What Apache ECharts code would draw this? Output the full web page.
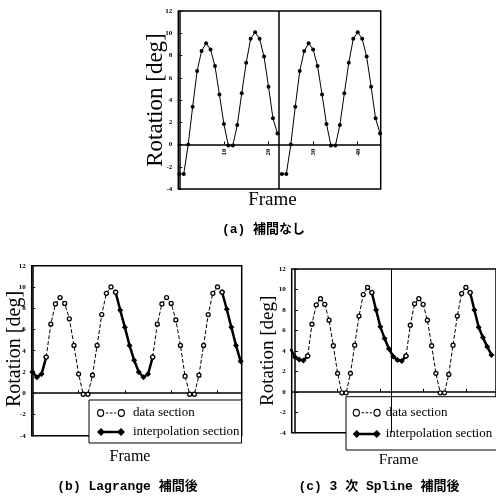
<!DOCTYPE html>
<html>
<head>
<meta charset="utf-8">
<script src="https://cdn.jsdelivr.net/npm/echarts@6/dist/echarts.min.js"></script>
<style>
html,body{margin:0;padding:0;background:#fff;}
#main{width:496px;height:497px;}
</style>
</head>
<body>
<div id="main"></div>
<script>
// ---- data ----
const frames = [0,1,2,3,4,5,6,7,8,9,10,11,12,13,14,15,16,17,18,19,20,21,22,23,24,25,26,27,28,29,30,31,32,33,34,35,36,37,38,39,40,41,42,43,44,45];
const cFrames = [-1,0,1,2,3,4,5,6,7,8,9,10,11,12,13,14,15,16,17,18,19,20,21,22,23,24,25,26,27,28,29,30,31,32,33,34,35,36,37,38,39,40,41,42,43,44,45,46];
// (a) raw motion data, one cycle (23 frames), shown twice
const aCycle = [-2.65,-2.65,0.0,3.4,6.6,8.4,9.1,8.55,7.05,4.5,1.85,-0.1,-0.1,1.75,4.6,7.35,9.5,10.1,9.5,7.9,5.2,2.35,1.0];
// (b) Lagrange interpolation result
const bValues = [2.0,1.5,1.8,3.4,6.5,8.4,9.0,8.45,7.0,4.5,1.8,-0.1,-0.1,1.7,4.5,7.4,9.4,10.0,9.5,7.8,6.2,4.5,3.1,2.0,1.5,1.8,3.4,6.5,8.4,9.0,8.45,6.9,4.5,1.6,-0.1,-0.1,1.7,4.5,7.4,9.4,10.0,9.5,7.9,6.2,4.5,3.0];
// (c) cubic spline interpolation result
const cValues = [4.2,3.4,3.15,3.05,3.5,6.6,8.5,9.1,8.55,7.0,4.5,1.8,-0.1,-0.1,1.8,4.55,7.4,9.5,10.2,9.7,8.0,6.35,5.2,4.2,3.45,3.1,3.0,3.5,6.5,8.6,9.1,8.55,7.0,4.5,1.8,-0.1,-0.1,1.7,4.55,7.4,9.6,10.2,9.7,8.0,6.3,5.3,4.4,3.6];
const dataRanges = [[3,18],[26,41]];
const bInterpRanges = [[0,3],[18,26],[41,45]];
const cInterpRanges = [[-1,3],[18,26],[41,46]];
const xTickFrames = [10,20,30,40];
const yTicks = {min:-4, max:12, interval:2};
const legendNames = ['data section','interpolation section'];

// ---- helpers ----
function pick(fr, vals, ranges){
  return fr.map((f,i)=> ranges.some(r=>f>=r[0]&&f<=r[1]) ? [f, vals[i]] : [f, null]);
}
const SERIF = "'Liberation Serif','Times New Roman',serif";
const CAP = "'Liberation Mono','Noto Sans CJK JP',monospace";

function yAxis(gi){
  return {gridIndex:gi, type:'value', min:yTicks.min, max:yTicks.max, interval:yTicks.interval,
    axisLine:{show:true, lineStyle:{color:'#000', width:1.5}},
    axisTick:{show:true, inside:true, length:3, lineStyle:{color:'#000', width:1}},
    axisLabel:{fontSize:7, fontWeight:'bold', fontFamily:SERIF, color:'#000', margin:6},
    splitLine:{show:false}};
}
// x axis placed at the y=0 line of its grid (zero lies 1/4 of the height above the bottom)
function xAxis(gi, min, max, gridH, labels){
  return {gridIndex:gi, type:'value', min:min, max:max, position:'bottom',
    offset: -gridH * (0 - yTicks.min) / (yTicks.max - yTicks.min),
    axisLine:{onZero:false, lineStyle:{color:'#000', width:1.5}},
    axisTick:{show:true, inside:true, length:3, customValues:xTickFrames, lineStyle:{color:'#000', width:1}},
    axisLabel: labels ? {show:true, customValues:xTickFrames, rotate:90, fontSize:7, fontWeight:'bold', fontFamily:SERIF, color:'#000', margin:4} : {show:false},
    splitLine:{show:false}};
}
function divider(x, w){
  return {symbol:'none', silent:true, label:{show:false}, animation:false,
    lineStyle:{color:'#000', type:'solid', width:w}, data:[{xAxis:x}]};
}
const dataStyle = {type:'line', symbol:'circle', symbolSize:4, z:3,
  itemStyle:{color:'#fff', borderColor:'#000', borderWidth:1.3},
  lineStyle:{color:'#000', width:1, type:[4,2]}};
const interpStyle = {type:'line', symbol:'diamond', symbolSize:6, z:2,
  itemStyle:{color:'#000'}, lineStyle:{color:'#000', width:2.5, type:'solid'}};

const DATA_ICON = 'path://M0.5,4A3.5,3.5,0,1,1,7.5,4A3.5,3.5,0,1,1,0.5,4ZM1.6,4A2.4,2.4,0,1,0,6.4,4A2.4,2.4,0,1,0,1.6,4ZM9,3.5H11.5V4.5H9ZM13,3.5H15.5V4.5H13ZM17,3.5H19V4.5H17ZM20.5,4A3.5,3.5,0,1,1,27.5,4A3.5,3.5,0,1,1,20.5,4ZM21.6,4A2.4,2.4,0,1,0,26.4,4A2.4,2.4,0,1,0,21.6,4Z';
const INTERP_ICON = 'path://M0,4L4,0.5L8,4L4,7.5ZM6,2.9H22V5.1H6ZM20,4L24,0.5L28,4L24,7.5Z';
function legend(left, top, padding, gap, textPad){
  return {orient:'vertical', left:left, top:top, padding:padding, itemGap:gap,
    itemWidth:28, itemHeight:8, selectedMode:false, symbolKeepAspect:false,
    backgroundColor:'#fff', borderColor:'#000', borderWidth:1,
    textStyle:{fontSize:13, fontFamily:SERIF, color:'#000', lineHeight:14, padding:[0,0,0,textPad]},
    data:[
      {name:legendNames[0], icon:DATA_ICON, itemStyle:{color:'#000', borderWidth:0, opacity:1}},
      {name:legendNames[1], icon:INTERP_ICON, itemStyle:{color:'#000', borderWidth:0, opacity:1}}
    ]};
}
function text(x, y, str, font, rot){
  return {type:'text', x:x, y:y, rotation:rot||0, silent:true, z:10,
    style:{text:str, font:font, fill:'#000', align:'center', verticalAlign:'middle'}};
}

const option = {
  backgroundColor:'#fff',
  animation:false,
  grid:[
    {left:178.3, top:11, width:202.4, height:178, show:true, borderColor:'#000', borderWidth:1.5},
    {left:31.7, top:265.7, width:210, height:170, show:true, borderColor:'#000', borderWidth:1.5},
    {left:291.7, top:269, width:214, height:163.7, show:true, borderColor:'#000', borderWidth:1.5}
  ],
  xAxis:[ xAxis(0, -0.22, 45.15, 178, true), xAxis(1, -0.13, 45.23, 170, false), xAxis(2, -0.74, 47.05, 163.7, false) ],
  yAxis:[ yAxis(0), yAxis(1), yAxis(2) ],
  legend:[ legend(89, 400, [6,2,4,8], 5, 3), legend(346, 396.7, [9,14,9,6.7], 7.3, 0) ],
  series:[
    {name:'a1', type:'line', xAxisIndex:0, yAxisIndex:0, symbol:'circle', symbolSize:4,
      itemStyle:{color:'#000'}, lineStyle:{color:'#000', width:1},
      data: aCycle.map((v,i)=>[frames[i], v]), markLine: divider(22.4, 1.5)},
    {name:'a2', type:'line', xAxisIndex:0, yAxisIndex:0, symbol:'circle', symbolSize:4,
      itemStyle:{color:'#000'}, lineStyle:{color:'#000', width:1},
      data: aCycle.map((v,i)=>[frames[i+23], v])},
    Object.assign({name:legendNames[1], xAxisIndex:1, yAxisIndex:1, data: pick(frames, bValues, bInterpRanges)}, interpStyle),
    Object.assign({name:legendNames[0], xAxisIndex:1, yAxisIndex:1, data: pick(frames, bValues, dataRanges)}, dataStyle),
    Object.assign({name:legendNames[1], xAxisIndex:2, yAxisIndex:2, data: pick(cFrames, cValues, cInterpRanges)}, interpStyle),
    Object.assign({name:legendNames[0], xAxisIndex:2, yAxisIndex:2, data: pick(cFrames, cValues, dataRanges),
      markLine: divider(22.6, 1)}, dataStyle)
  ],
  graphic:[
    text(155.5, 100, 'Rotation [deg]', '23px '+SERIF, Math.PI/2),
    text(272.5, 200, 'Frame', '19px '+SERIF),
    text(263.5, 230, '(a) 補間なし', 'bold 13px '+CAP),
    text(15, 349, 'Rotation [deg]', '20px '+SERIF, Math.PI/2),
    text(130, 457, 'Frame', '16px '+SERIF),
    text(127.5, 487, '(b) Lagrange 補間後', 'bold 13px '+CAP),
    text(268.5, 350.8, 'Rotation [deg]', '19px '+SERIF, Math.PI/2),
    text(398.5, 460, 'Frame', '15.5px '+SERIF),
    text(379, 487, '(c) 3 次 Spline 補間後', 'bold 13px '+CAP)
  ]
};
const chart = echarts.init(document.getElementById('main'), null, {renderer:'canvas'});
chart.setOption(option);
</script>
</body>
</html>
